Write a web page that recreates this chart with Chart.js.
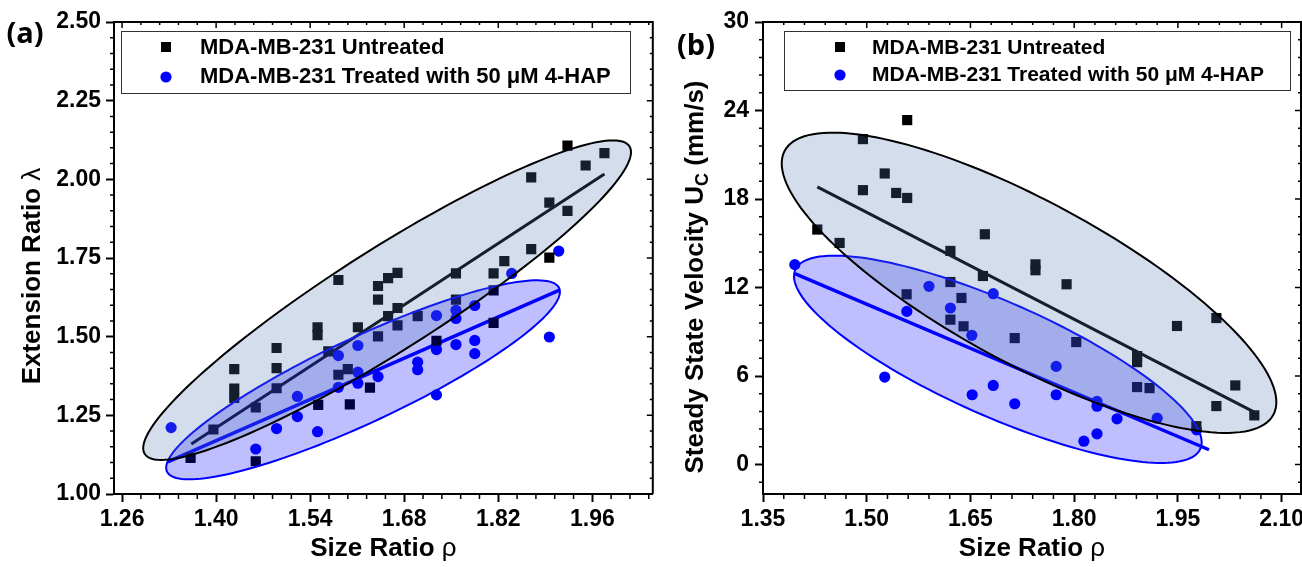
<!DOCTYPE html>
<html>
<head>
<meta charset="utf-8">
<script src="https://cdn.jsdelivr.net/npm/chart.js@4.4.1/dist/chart.umd.min.js"></script>
<style>
html, body { margin: 0; padding: 0; background: #fff; }
#wrap { position: relative; width: 1302px; height: 567px; overflow: hidden; }
.panel { position: absolute; top: 0; }
#panelA { left: 0; }
#panelB { left: 660px; }
</style>
</head>
<body>
<div id="wrap">
    <div class="panel" id="panelA"><canvas id="chartA" width="660" height="567"></canvas></div>
    <div class="panel" id="panelB"><canvas id="chartB" width="660" height="567"></canvas></div>
</div>
<script>
const FONT = "'Liberation Sans', Arial, Helvetica, sans-serif";
const TICK_FONT = "'Liberation Sans Narrow', 'Arial Narrow', 'Liberation Sans', sans-serif";

const seriesNames = ["MDA-MB-231 Untreated", "MDA-MB-231 Treated with 50 \u03bcM 4-HAP"];

// ---- panel (a): extension ratio vs size ratio ----
const rhoUntreatedA = [1.362, 1.396, 1.427, 1.427, 1.427, 1.459, 1.459, 1.490, 1.490, 1.490,
    1.551, 1.551, 1.552, 1.567, 1.582, 1.641, 1.641, 1.656, 1.670, 1.670,
    1.656, 1.670, 1.611, 1.641, 1.700, 1.757, 1.757, 1.813, 1.829, 1.813,
    1.813, 1.728, 1.582, 1.596, 1.629, 1.599, 1.923, 1.978, 1.950, 1.869,
    1.896, 1.923, 1.869, 1.896];
const lambdaUntreatedA = [1.115, 1.205, 1.397, 1.335, 1.305, 1.275, 1.104, 1.336, 1.400, 1.464,
    1.530, 1.505, 1.283, 1.453, 1.680, 1.661, 1.618, 1.686, 1.703, 1.591,
    1.565, 1.536, 1.530, 1.501, 1.565, 1.701, 1.618, 1.701, 1.740, 1.647,
    1.544, 1.487, 1.379, 1.397, 1.338, 1.285, 2.107, 2.083, 2.044, 2.006,
    1.926, 1.900, 1.778, 1.751];
const rhoTreatedA = [1.333, 1.459, 1.490, 1.521, 1.521, 1.551, 1.582, 1.611, 1.611, 1.611,
    1.582, 1.641, 1.700, 1.700, 1.728, 1.757, 1.757, 1.785, 1.728, 1.757,
    1.785, 1.785, 1.728, 1.840, 1.910, 1.896];
const lambdaTreatedA = [1.211, 1.143, 1.208, 1.310, 1.246, 1.198, 1.440, 1.472, 1.387, 1.352,
    1.339, 1.373, 1.419, 1.395, 1.567, 1.584, 1.558, 1.599, 1.459, 1.475,
    1.488, 1.446, 1.315, 1.701, 1.772, 1.499];
const fitUntreatedA = { x: [1.363, 1.978], y: [1.159, 2.017] };
const fitTreatedA = { x: [1.328, 1.911], y: [1.102, 1.648] };
// confidence ellipses: centre, major and minor half axes (data units)
const ellipseUntreatedA = { c: [1.6545, 1.616], u: [0.3609, 0.4883], v: [0.0395, -0.1391] };
const ellipseTreatedA = { c: [1.6187, 1.3629], u: [0.2919, 0.2914], v: [0.0258, -0.1230] };
const xTicksA = [1.26, 1.40, 1.54, 1.68, 1.82, 1.96];
const yTicksA = [1.00, 1.25, 1.50, 1.75, 2.00, 2.25, 2.50];

// ---- panel (b): steady state velocity vs size ratio ----
const rhoUntreatedB = [1.5585, 1.4945, 1.526, 1.4945, 1.5426, 1.5585, 1.4285, 1.4608, 1.621, 1.621,
    1.5577, 1.637, 1.621, 1.640, 1.6708, 1.744, 1.744, 1.668, 1.789, 1.714,
    1.803, 1.9487, 2.0056, 1.891, 1.891, 1.891, 1.909, 2.033, 2.0056, 2.0605,
    1.9767];
const velUntreatedB = [23.35, 22.06, 19.73, 18.60, 18.41, 18.07, 15.93, 15.02, 14.48, 12.37,
    11.54, 11.29, 9.82, 9.37, 15.61, 13.57, 13.17, 12.78, 12.22, 8.57,
    8.30, 9.39, 9.93, 7.35, 6.94, 5.25, 5.18, 5.36, 3.96, 3.33,
    2.60];
const rhoTreatedB = [1.396, 1.590, 1.558, 1.621, 1.683, 1.652, 1.526, 1.6525, 1.683, 1.714,
    1.774, 1.774, 1.833, 1.833, 1.814, 1.833, 1.862, 1.920, 1.977];
const velTreatedB = [13.55, 12.08, 10.38, 10.61, 11.58, 8.76, 5.93, 4.73, 5.36, 4.12,
    6.65, 4.73, 4.28, 3.95, 1.58, 2.08, 3.10, 3.14, 2.35];
const fitUntreatedB = { x: [1.4285, 2.0605], y: [18.82, 3.55] };
const fitTreatedB = { x: [1.396, 1.995], y: [12.94, 1.0] };
const ellipseUntreatedB = { c: [1.7347, 12.32], u: [0.3533, -8.952], v: [-0.0556, -4.846] };
const ellipseTreatedB = { c: [1.6896, 7.133], u: [0.2929, -6.068], v: [-0.0332, -3.543] };
const xTicksB = [1.35, 1.50, 1.65, 1.80, 1.95, 2.10];
const yTicksB = [0, 6, 12, 18, 24, 30];

function toPts(xs, ys) {
    return xs.map((x, i) => ({ x: x, y: ys[i] }));
}

function ellipsePath(ctx, xs, ys, e) {
    ctx.beginPath();
    for (let i = 0; i <= 160; i++) {
        const t = i / 160 * Math.PI * 2;
        const px = xs.getPixelForValue(e.c[0] + e.u[0] * Math.cos(t) + e.v[0] * Math.sin(t));
        const py = ys.getPixelForValue(e.c[1] + e.u[1] * Math.cos(t) + e.v[1] * Math.sin(t));
        if (i === 0) ctx.moveTo(px, py); else ctx.lineTo(px, py);
    }
    ctx.closePath();
}

function drawRich(ctx, parts, x, y, rotate) {
    ctx.save();
    ctx.translate(x, y);
    if (rotate) ctx.rotate(-Math.PI / 2);
    ctx.textBaseline = "alphabetic";
    ctx.textAlign = "left";
    let total = 0;
    parts.forEach(p => { ctx.font = p.f; total += ctx.measureText(p.t).width; });
    let cx = -total / 2;
    parts.forEach(p => {
        ctx.font = p.f;
        ctx.fillText(p.t, cx, p.dy || 0);
        cx += ctx.measureText(p.t).width;
    });
    ctx.restore();
}

function minorValues(min, max, step, majors) {
    const out = [];
    for (let k = Math.ceil((min - 1e-9) / step); k * step <= max + 1e-9; k++) {
        const v = k * step;
        if (!majors.some(m => Math.abs(m - v) < step / 10)) out.push(v);
    }
    return out;
}

const ellipsesPlugin = {
    id: "ellipses",
    afterDatasetsDraw(chart, args, o) {
        const { ctx, chartArea: a, scales: { x, y } } = chart;
        ctx.save();
        ctx.beginPath();
        ctx.rect(a.left, a.top, a.right - a.left, a.bottom - a.top);
        ctx.clip();
        o.list.forEach(item => {
            ellipsePath(ctx, x, y, item.e);
            ctx.fillStyle = item.fill;
            ctx.fill();
            ctx.lineWidth = 2;
            ctx.strokeStyle = item.stroke;
            ctx.stroke();
        });
        ctx.restore();
    }
};

const decorPlugin = {
    id: "decor",
    afterDraw(chart, args, o) {
        const { ctx, chartArea: a, scales: { x, y } } = chart;
        ctx.save();
        ctx.strokeStyle = "#000";
        ctx.lineWidth = 2;
        ctx.beginPath();
        ctx.moveTo(a.left, a.top);
        ctx.lineTo(a.right, a.top);
        ctx.lineTo(a.right, a.bottom);
        ctx.stroke();

        ctx.lineWidth = 1.5;
        ctx.beginPath();
        minorValues(x.min, x.max, o.xMinor, o.xTicks).forEach(v => {
            const px = x.getPixelForValue(v);
            ctx.moveTo(px, a.bottom); ctx.lineTo(px, a.bottom + 5);
            ctx.moveTo(px, a.top); ctx.lineTo(px, a.top + 3);
        });
        minorValues(y.min, y.max, o.yMinor, o.yTicks).forEach(v => {
            const py = y.getPixelForValue(v);
            ctx.moveTo(a.left, py); ctx.lineTo(a.left - 4, py);
            ctx.moveTo(a.right, py); ctx.lineTo(a.right - 3, py);
        });
        o.xTicks.forEach(v => {
            const px = x.getPixelForValue(v);
            ctx.moveTo(px, a.top); ctx.lineTo(px, a.top + 6);
        });
        o.yTicks.forEach(v => {
            const py = y.getPixelForValue(v);
            ctx.moveTo(a.right, py); ctx.lineTo(a.right - 6, py);
        });
        ctx.stroke();

        // axis titles
        ctx.fillStyle = "#000";
        drawRich(ctx, o.xTitle, (a.left + a.right) / 2, 556, false);
        drawRich(ctx, o.yTitle, o.yTitlePos[0], o.yTitlePos[1], true);

        // panel label
        ctx.font = "bold 29px 'Open Sans', " + FONT;
        ctx.textAlign = "center";
        ctx.textBaseline = "middle";
        ctx.fillText(o.panel.text, o.panel.x, o.panel.y);

        // legend
        const L = o.legend;
        ctx.fillStyle = "#fff";
        ctx.fillRect(L.box[0], L.box[1], L.box[2] - L.box[0], L.box[3] - L.box[1]);
        ctx.lineWidth = 1;
        ctx.strokeStyle = "#333";
        ctx.strokeRect(L.box[0] + 0.5, L.box[1] + 0.5, L.box[2] - L.box[0], L.box[3] - L.box[1]);
        ctx.fillStyle = "#000";
        ctx.fillRect(L.markerX - 5, L.markerY[0] - 5, 10, 10);
        ctx.fillStyle = "#0000ff";
        ctx.beginPath();
        ctx.arc(L.markerX, L.markerY[1], 5.6, 0, Math.PI * 2);
        ctx.fill();
        ctx.fillStyle = "#000";
        ctx.font = "bold " + L.size + "px " + FONT;
        ctx.textAlign = "left";
        ctx.textBaseline = "alphabetic";
        seriesNames.forEach((name, i) => ctx.fillText(name, L.textX, L.baseline[i]));
        ctx.restore();
    }
};

function axis(ticksArr, min, max, fmt, size, pad, isX) {
    return {
        type: "linear",
        min: min,
        max: max,
        afterFit: s => { if (isX) s.height = 73; else s.width = size; },
        afterBuildTicks: s => { s.ticks = ticksArr.map(v => ({ value: v })); },
        ticks: {
            autoSkip: false,
            maxRotation: 0,
            padding: pad,
            color: "#000",
            font: { family: TICK_FONT, size: 23, weight: "bold" },
            callback: v => Number(v).toFixed(fmt)
        },
        grid: {
            drawOnChartArea: false,
            drawTicks: true,
            tickLength: 8,
            tickWidth: 2,
            tickColor: "#000"
        },
        border: { display: true, color: "#000", width: 2 }
    };
}

function makeChart(id, p) {
    return new Chart(document.getElementById(id), {
        type: "scatter",
        data: {
            datasets: [
                {
                    label: seriesNames[0],
                    data: toPts(p.ux, p.uy),
                    pointStyle: "rect",
                    pointRadius: 7.2,
                    backgroundColor: "#000",
                    borderWidth: 0
                },
                {
                    label: seriesNames[1],
                    data: toPts(p.tx, p.ty),
                    pointStyle: "circle",
                    pointRadius: 5.6,
                    backgroundColor: "#0000ff",
                    borderWidth: 0
                },
                {
                    data: toPts(p.uf.x, p.uf.y),
                    showLine: true,
                    pointRadius: 0,
                    borderColor: "#000",
                    borderWidth: 3
                },
                {
                    data: toPts(p.tf.x, p.tf.y),
                    showLine: true,
                    pointRadius: 0,
                    borderColor: "#0000ff",
                    borderWidth: 3.5
                }
            ]
        },
        options: {
            responsive: false,
            animation: false,
            layout: { padding: { top: 22, right: p.padRight, left: 0, bottom: 0 } },
            scales: {
                x: axis(p.xTicks, p.xMin, p.xMax, 2, 0, 4, true),
                y: axis(p.yTicks, p.yMin, p.yMax, p.yFmt, p.yWidth, p.yPad, false)
            },
            plugins: {
                legend: { display: false },
                tooltip: { enabled: false },
                ellipses: {
                    list: [
                        { e: p.te, fill: "rgba(0,0,255,0.25)", stroke: "#0000ff" },
                        { e: p.ue, fill: "rgba(80,120,180,0.25)", stroke: "#000" }
                    ]
                },
                decor: p.decor
            }
        },
        plugins: [ellipsesPlugin, decorPlugin]
    });
}

const titleFont = "bold 26px " + FONT;
const symFont = "26px " + FONT;

makeChart("chartA", {
    ux: rhoUntreatedA, uy: lambdaUntreatedA,
    tx: rhoTreatedA, ty: lambdaTreatedA,
    uf: fitUntreatedA, tf: fitTreatedA,
    ue: ellipseUntreatedA, te: ellipseTreatedA,
    xTicks: xTicksA, yTicks: yTicksA,
    xMin: 1.248, xMax: 2.05, yMin: 1.0, yMax: 2.5,
    yFmt: 2, yWidth: 114, yPad: 5, padRight: 1,
    decor: {
        xTicks: xTicksA, yTicks: yTicksA, xMinor: 0.028, yMinor: 0.05,
        xTitle: [{ t: "Size Ratio ", f: titleFont }, { t: "\u03c1", f: symFont }],
        yTitle: [{ t: "Extension Ratio ", f: titleFont }, { t: "\u03bb", f: symFont }],
        yTitlePos: [40, 276],
        panel: { text: "(a)", x: 25, y: 35 },
        legend: { box: [121, 31, 630, 93], markerX: 166, markerY: [47, 77], textX: 200, baseline: [54, 83], size: 22 }
    }
});

makeChart("chartB", {
    ux: rhoUntreatedB, uy: velUntreatedB,
    tx: rhoTreatedB, ty: velTreatedB,
    uf: fitUntreatedB, tf: fitTreatedB,
    ue: ellipseUntreatedB, te: ellipseTreatedB,
    xTicks: xTicksB, yTicks: yTicksB,
    xMin: 1.35, xMax: 2.128, yMin: -2, yMax: 30,
    yFmt: 0, yWidth: 103, yPad: 6, padRight: 19,
    decor: {
        xTicks: xTicksB, yTicks: yTicksB, xMinor: 0.03, yMinor: 1.2,
        xTitle: [{ t: "Size Ratio ", f: titleFont }, { t: "\u03c1", f: symFont }],
        yTitle: [
            { t: "Steady State Velocity U", f: titleFont },
            { t: "C", f: "bold 18px " + FONT, dy: 5 },
            { t: " (mm/s)", f: titleFont }
        ],
        yTitlePos: [43, 277],
        panel: { text: "(b)", x: 36, y: 47 },
        legend: { box: [124, 31, 630, 90], markerX: 180, markerY: [47, 75], textX: 212, baseline: [54, 81], size: 21 }
    }
});
</script>
</body>
</html>
